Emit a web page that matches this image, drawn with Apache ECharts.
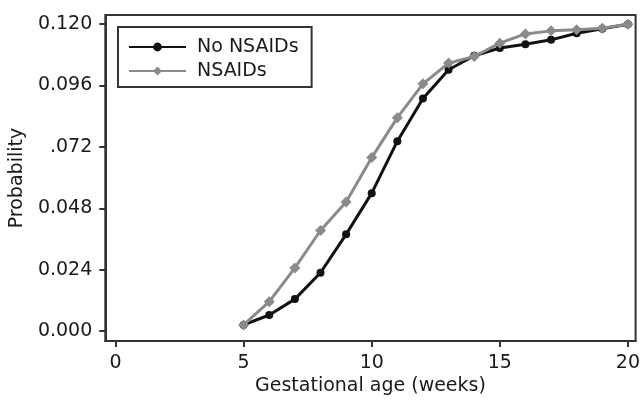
<!DOCTYPE html>
<html>
<head>
<meta charset="utf-8">
<script src="https://cdn.jsdelivr.net/npm/echarts@6/dist/echarts.min.js"></script>
<style>html,body{margin:0;padding:0;background:#fff}#c{width:643px;height:401px}</style>
</head>
<body>
<div id="c"></div>
<script>
var weeks = [5,6,7,8,9,10,11,12,13,14,15,16,17,18,19,20];
var noNsaids = [0.0024,0.0063,0.0125,0.0228,0.0378,0.0539,0.0742,0.0909,0.1021,0.1076,0.1106,0.1121,0.1138,0.1164,0.1181,0.1199];
var nsaids = [0.0024,0.0115,0.0247,0.0393,0.0504,0.0678,0.0834,0.0966,0.1047,0.1073,0.1125,0.1161,0.1173,0.1177,0.1183,0.1199];
var xTicks = [0,5,10,15,20];
var yTicks = [0,0.024,0.048,0.072,0.096,0.120];
var yTickLabels = ['0.000','0.024','0.048','.072','0.096','0.120'];

var FONT = 'DejaVu Sans';
var chart = echarts.init(document.getElementById('c'), null, {renderer:'canvas'});
function pairs(ys){ return weeks.map(function(w,i){return [w, ys[i]];}); }
chart.setOption({
  animation:false,
  textStyle:{fontFamily:FONT},
  grid:{left:105,right:3,top:15,bottom:57,show:true,borderColor:'#333',borderWidth:2,backgroundColor:'#fff'},
  legend:{
    left:118, top:27, orient:'vertical',
    borderColor:'#333', borderWidth:2, padding:[10,13,6,10],
    itemWidth:57, itemHeight:11, itemGap:4,
    textStyle:{fontFamily:FONT,fontSize:19,color:'#1a1a1a',lineHeight:20,padding:[0,0,0,6]},
    data:['No NSAIDs','NSAIDs']
  },
  xAxis:{
    type:'value', min:-0.4, max:20.3,
    name:'Gestational age (weeks)', nameLocation:'middle', nameGap:35,
    nameTextStyle:{fontFamily:FONT,fontSize:19,color:'#1a1a1a'},
    axisLine:{show:true,onZero:false,lineStyle:{color:'#333',width:2}},
    axisTick:{show:true,length:6,lineStyle:{color:'#333',width:2},customValues:xTicks},
    axisLabel:{fontFamily:FONT,fontSize:19,color:'#1a1a1a',margin:12,customValues:xTicks},
    splitLine:{show:false}
  },
  yAxis:{
    type:'value', min:-0.0039, max:0.1235,
    name:'Probability', nameLocation:'middle', nameGap:77,
    nameTextStyle:{fontFamily:FONT,fontSize:19,color:'#1a1a1a'},
    axisLine:{show:true,onZero:false,lineStyle:{color:'#333',width:2}},
    axisTick:{show:true,length:6,lineStyle:{color:'#333',width:2},customValues:yTicks},
    axisLabel:{fontFamily:FONT,fontSize:19,color:'#1a1a1a',margin:13,customValues:yTicks,
      formatter:function(v){
        for(var i=0;i<yTicks.length;i++){ if(Math.abs(v-yTicks[i])<1e-9) return yTickLabels[i]; }
        return '';
      }},
    splitLine:{show:false}
  },
  series:[
    {name:'No NSAIDs',type:'line',data:pairs(noNsaids),symbol:'circle',symbolSize:8,
     lineStyle:{color:'#111',width:3},itemStyle:{color:'#111'},z:2},
    {name:'NSAIDs',type:'line',data:pairs(nsaids),symbol:'diamond',symbolSize:11,
     lineStyle:{color:'#8a8a8a',width:3},itemStyle:{color:'#8a8a8a'},z:3}
  ]
});
</script>
</body>
</html>
